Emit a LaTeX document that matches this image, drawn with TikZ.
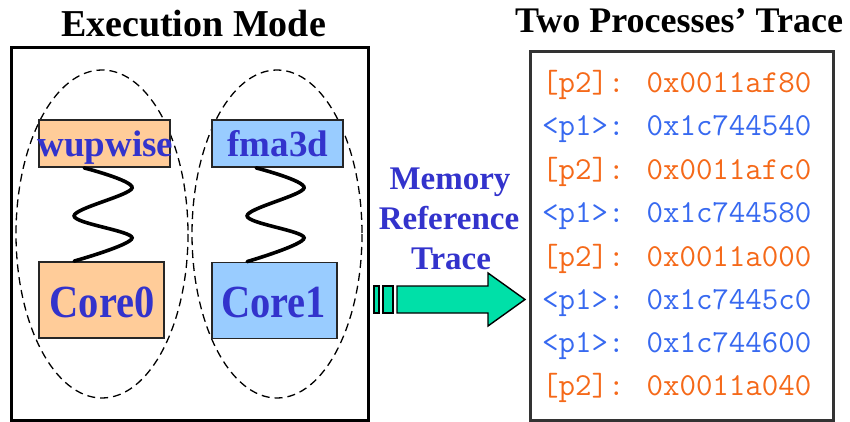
\documentclass[tikz,border=0pt]{standalone}
\usepackage{fontspec}
\setmainfont{Liberation Serif}
\newfontfamily\tracefont{Latin Modern Mono}
\newfontfamily\corefont[FakeStretch=0.88]{Liberation Serif}
\definecolor{labelblue}{RGB}{51,51,204}
\definecolor{procorange}{RGB}{255,204,153}
\definecolor{procblue}{RGB}{153,204,255}
\definecolor{arrowgreen}{RGB}{0,224,168}
\definecolor{traceorange}{RGB}{245,105,25}
\definecolor{traceblue}{RGB}{55,105,240}
\begin{document}
\begin{tikzpicture}[x=1pt,y=-1pt,
  titletext/.style={font=\fontsize{38}{40}\selectfont\bfseries, anchor=base, inner sep=0},
  panel/.style={draw, line width=3pt, inner sep=0, outer sep=0},
  procbox/.style={draw=black!85, line width=1.8pt, inner sep=0, minimum width=131pt, minimum height=47pt},
  corebox/.style={draw=black!85, line width=1.8pt, inner sep=0, minimum width=125pt, minimum height=76pt},
  proclabel/.style={font=\fontsize{37}{40}\selectfont\bfseries, text=labelblue, anchor=base, inner sep=0},
  corelabel/.style={font=\corefont\fontsize{46}{48}\selectfont\bfseries, text=labelblue, anchor=base, inner sep=0},
  group/.style={draw, dashed, dash pattern=on 8pt off 5pt, line width=1.3pt},
  spring/.style={draw, line width=3.6pt, line cap=round},
  trace/.style={font=\tracefont\fontsize{32}{36}\selectfont, anchor=base west, inner sep=0},
  flowtext/.style={font=\fontsize{33}{40}\selectfont\bfseries, text=labelblue, anchor=base, inner sep=0}
]
\useasboundingbox (0,0) rectangle (850,422);

% headings
\node[titletext] (ttl1) at (193.5,37) {Execution Mode};
\node[titletext, font=\fontsize{36}{40}\selectfont\bfseries] (ttl2) at (679,33) {Two Processes’ Trace};

% execution panel
\node[panel, minimum width=357pt, minimum height=372pt] (exec) at (189.5,234) {};

% process groups
\draw[group] (102,234) ellipse [x radius=86, y radius=164];
\draw[group] (277,234) ellipse [x radius=85, y radius=164];

% processes and cores
\node[procbox, fill=procorange] (wup) at (104.5,143.5) {};
\node[procbox, fill=procblue] (fma) at (277.5,143.5) {};
\node[corebox, fill=procorange] (core0) at (101.5,300) {};
\node[corebox, fill=procblue] (core1) at (274.5,300.5) {};
\node[proclabel] (wupt) at (105.5,157) {wupwise};
\node[proclabel] (fmat) at (278,157) {fma3d};
\node[corelabel] (core0t) at (102,317) {Core0};
\node[corelabel] (core1t) at (273.5,317) {Core1};

% springs binding each process to its core
\path (wup.south west) ++(46,0) coordinate (ws);
\path (ws) ++(48,20) coordinate (w1);
\path (ws) ++(-10,48) coordinate (w2);
\path (ws) ++(48,70) coordinate (w3);
\path (core0.north west) ++(36,0) coordinate (we);
\draw[spring] plot[smooth, tension=0.55] coordinates {(ws) (w1) (w2) (w3) (we)};
\path (fma.south west) ++(45,0) coordinate (fs);
\path (fs) ++(48,20) coordinate (f1);
\path (fs) ++(-9,48) coordinate (f2);
\path (fs) ++(48,70) coordinate (f3);
\path (core1.north west) ++(36,0) coordinate (fe);
\draw[spring] plot[smooth, tension=0.55] coordinates {(fs) (f1) (f2) (f3) (fe)};

% memory reference trace arrow
\node[flowtext] (mem) at (450,189) {Memory};
\node[flowtext] (ref) at (449,229) {Reference};
\node[flowtext] (trc) at (451,269) {Trace};
\draw[fill=arrowgreen, line width=1.4pt] (374,286) rectangle (379,313);
\draw[fill=arrowgreen, line width=1.4pt] (383,286) rectangle (393,313);
\draw[fill=arrowgreen, line width=1.4pt, line join=miter]
  (397,286) -- (488,286) -- (488,273) -- (525,299.5) -- (488,326) -- (488,313) -- (397,313) -- cycle;

% trace panel
\node[panel, draw=black!80, minimum width=303pt, minimum height=368pt] (tracebox) at (681.5,236) {};
\node[trace, text=traceorange] (r1) at (542,93) {[p2]: 0x0011af80};
\node[trace, text=traceblue] (r2) at (542,136) {<p1>: 0x1c744540};
\node[trace, text=traceorange] (r3) at (542,179) {[p2]: 0x0011afc0};
\node[trace, text=traceblue] (r4) at (542,222) {<p1>: 0x1c744580};
\node[trace, text=traceorange] (r5) at (542,266) {[p2]: 0x0011a000};
\node[trace, text=traceblue] (r6) at (542,309) {<p1>: 0x1c7445c0};
\node[trace, text=traceblue] (r7) at (542,352) {<p1>: 0x1c744600};
\node[trace, text=traceorange] (r8) at (542,395) {[p2]: 0x0011a040};
\end{tikzpicture}
\end{document}
